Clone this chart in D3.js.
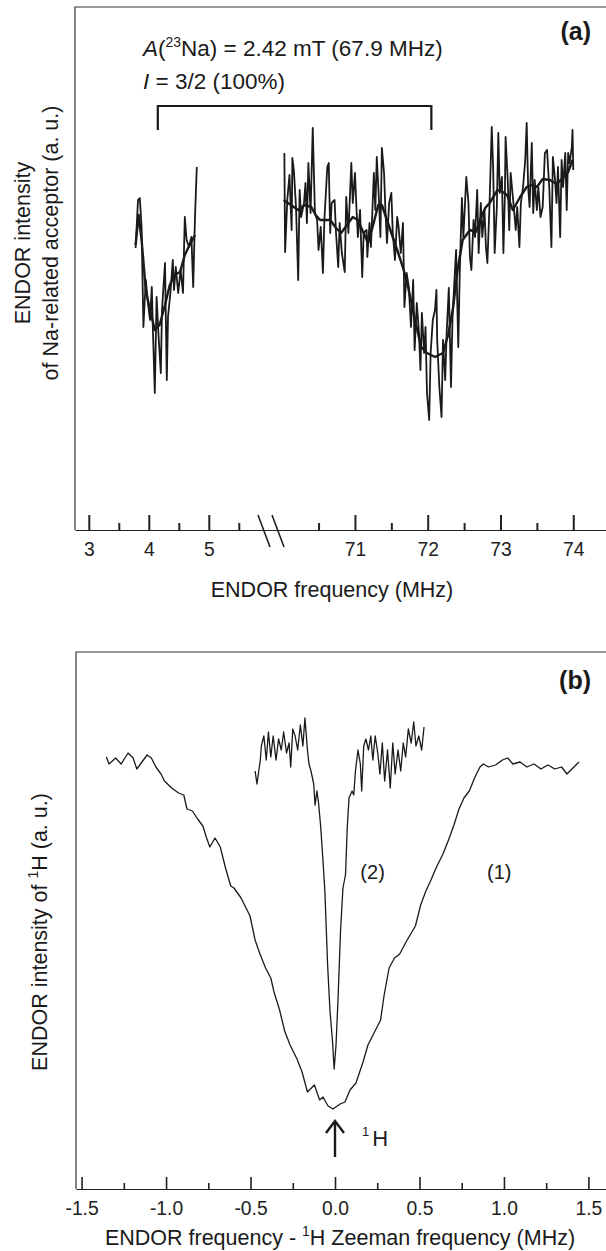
<!DOCTYPE html>
<html>
<head>
<meta charset="utf-8">
<script src="https://cdn.jsdelivr.net/npm/d3@7"></script>
<style>
  body { margin: 0; background: #fff; }
  svg { display: block; font-family: "Liberation Sans", Arial, Helvetica, sans-serif; }
  .axis path, .axis line { stroke: #222; }
  .axis text { font-size: 19.3px; fill: #222; font-family: "Liberation Sans", Arial, sans-serif; }
</style>
</head>
<body>
<svg width="606" height="1251"></svg>
<script>
// ---------- panel (a): Na-related acceptor ENDOR ----------
var aMajorTicks = [3, 4, 5, 71, 72, 73, 74];
var aMinorTicks = [3.5, 4.5, 5.5, 70.5, 71.5, 72.5, 73.5];

// low-frequency branch, raw trace (MHz, a.u.)
var aLowFreq = [3.78, 3.82, 3.85, 3.88, 3.91, 3.95, 3.98, 4.02, 4.05, 4.07, 4.10, 4.13, 4.16, 4.20, 4.22, 4.27,
  4.30, 4.32, 4.36, 4.40, 4.42, 4.45, 4.49, 4.53, 4.57, 4.60, 4.63, 4.67, 4.71, 4.74, 4.77, 4.80];
var aLowRaw = [28.2, 33.0, 33.2, 30.3, 20.3, 25.0, 23.0, 21.0, 24.3, 19.7, 13.7, 23.3, 19.7, 15.7, 22.0, 26.7,
  15.0, 21.3, 23.7, 27.0, 24.0, 26.3, 23.7, 26.0, 23.7, 31.3, 29.0, 28.3, 29.3, 24.3, 31.3, 36.3];
// low-frequency branch, smoothed
var aLowSmoothFreq = [3.78, 3.83, 3.88, 3.95, 4.02, 4.10, 4.18, 4.27, 4.35, 4.43, 4.52, 4.60, 4.68, 4.77];
var aLowSmooth = [28.5, 31.5, 29.0, 24.0, 22.0, 20.0, 20.5, 22.5, 24.5, 25.5, 25.8, 27.5, 28.5, 29.5];

// high-frequency branch, raw trace
var aHighFreq = [70.03, 70.04, 70.07, 70.10, 70.13, 70.14, 70.16, 70.19, 70.22, 70.24, 70.26, 70.30, 70.32, 70.34,
  70.36, 70.39, 70.42, 70.45, 70.48, 70.50, 70.53, 70.56, 70.58, 70.62, 70.64, 70.66, 70.68, 70.72, 70.74, 70.77,
  70.79, 70.82, 70.86, 70.88, 70.91, 70.95, 70.97, 71.00, 71.02, 71.04, 71.07, 71.10, 71.12, 71.16, 71.17, 71.20,
  71.22, 71.26, 71.28, 71.30, 71.33, 71.35, 71.37, 71.40, 71.42, 71.44, 71.47, 71.50, 71.52, 71.55, 71.58, 71.60,
  71.63, 71.66, 71.68, 71.71, 71.74, 71.77, 71.80, 71.82, 71.85, 71.88, 71.90, 71.92, 71.95, 71.97, 71.99, 72.02,
  72.04, 72.07, 72.10, 72.12, 72.13, 72.16, 72.19, 72.21, 72.24, 72.26, 72.29, 72.32, 72.34, 72.36, 72.39, 72.42,
  72.44, 72.47, 72.49, 72.51, 72.53, 72.56, 72.58, 72.60, 72.63, 72.65, 72.68, 72.70, 72.73, 72.75, 72.78, 72.80,
  72.82, 72.85, 72.88, 72.90, 72.92, 72.95, 72.97, 72.99, 73.02, 73.04, 73.06, 73.07, 73.10, 73.12, 73.14, 73.17,
  73.19, 73.21, 73.23, 73.26, 73.28, 73.31, 73.34, 73.36, 73.38, 73.40, 73.43, 73.45, 73.47, 73.50, 73.52, 73.55,
  73.58, 73.61, 73.64, 73.67, 73.70, 73.72, 73.75, 73.77, 73.79, 73.82, 73.84, 73.86, 73.89, 73.91, 73.93, 73.95,
  73.98, 73.99, 74.00];
var aHighRaw = [37.7, 27.8, 33.0, 35.5, 30.0, 37.2, 36.0, 32.3, 25.0, 34.0, 31.3, 32.7, 34.7, 30.7,
  36.7, 31.7, 40.2, 31.7, 31.0, 28.0, 30.3, 25.7, 31.0, 36.3, 36.7, 29.7, 32.7, 33.0, 29.7, 26.3,
  30.7, 27.7, 25.8, 33.3, 29.7, 36.7, 32.7, 35.7, 32.3, 29.3, 32.0, 25.3, 29.7, 30.0, 27.3, 30.7,
  28.3, 35.7, 32.0, 37.3, 33.0, 29.3, 38.2, 35.7, 31.7, 28.7, 32.7, 33.7, 29.7, 27.0, 31.3, 30.3,
  27.7, 30.7, 22.3, 25.7, 24.3, 20.3, 25.0, 18.0, 22.7, 19.7, 16.0, 21.7, 17.7, 20.3, 13.7, 11.0,
  17.7, 21.0, 22.0, 24.0, 19.0, 14.3, 11.3, 19.0, 15.0, 19.7, 24.2, 14.3, 21.0, 24.0, 28.0, 18.3,
  25.7, 33.2, 29.3, 32.3, 35.3, 32.7, 27.3, 26.0, 31.0, 29.3, 34.0, 27.7, 32.7, 29.3, 32.0, 28.3,
  26.7, 32.7, 40.3, 36.0, 27.7, 32.3, 39.7, 33.7, 35.3, 27.7, 33.3, 39.3, 35.0, 30.0, 35.7, 33.3,
  31.7, 30.0, 32.3, 28.3, 32.7, 34.3, 37.0, 40.7, 34.3, 32.3, 38.7, 31.7, 35.0, 32.0, 34.3, 31.3,
  32.3, 37.7, 38.0, 34.3, 28.3, 37.3, 35.0, 32.7, 36.3, 29.3, 37.0, 34.3, 37.7, 32.0, 37.7, 36.7,
  38.3, 40.0, 36.0];
// high-frequency branch, smoothed
var aHighSmoothFreq = [70.02, 70.12, 70.22, 70.31, 70.40, 70.46, 70.52, 70.66, 70.74, 70.81, 70.89, 70.97, 71.04,
  71.10, 71.18, 71.25, 71.32, 71.37, 71.43, 71.51, 71.59, 71.67, 71.73, 71.81, 71.91, 71.99, 72.10, 72.21, 72.28,
  72.35, 72.41, 72.48, 72.58, 72.66, 72.72, 72.79, 72.85, 72.96, 73.03, 73.09, 73.17, 73.27, 73.36, 73.43, 73.50,
  73.58, 73.68, 73.77, 73.86, 73.93, 73.99];
var aHighSmooth = [33.0, 32.5, 32.0, 32.5, 32.3, 31.5, 31.0, 31.0, 30.2, 29.7, 30.5, 31.3, 31.0,
  30.0, 28.7, 30.5, 32.5, 32.5, 31.2, 29.5, 27.8, 26.0, 24.3, 21.5, 18.3, 17.7, 17.3, 17.7, 19.5,
  22.3, 26.0, 29.0, 30.0, 29.8, 31.0, 32.2, 32.7, 34.0, 33.8, 33.5, 32.0, 33.3, 34.3, 34.5, 34.3,
  35.1, 35.0, 34.6, 35.2, 35.8, 37.0];

// 23Na hyperfine splitting bracket (MHz)
var aSplitting = [4.15, 72.05];

// ---------- panel (b): 1H ENDOR ----------
var bMajorTicks = [-1.5, -1.0, -0.5, 0.0, 0.5, 1.0, 1.5];
var bMinorTicks = [-1.25, -0.75, -0.25, 0.25, 0.75, 1.25];

// curve (1)
var b1Freq = [-1.353, -1.338, -1.298, -1.266, -1.225, -1.195, -1.173, -1.143, -1.112, -1.087, -1.060, -1.030,
  -1.009, -0.967, -0.926, -0.895, -0.876, -0.844, -0.813, -0.782, -0.762, -0.741, -0.710, -0.679, -0.648,
  -0.617, -0.598, -0.556, -0.503, -0.473, -0.444, -0.411, -0.380, -0.361, -0.328, -0.298, -0.266, -0.225,
  -0.195, -0.163, -0.122, -0.091, -0.071, -0.041, -0.012, 0.030, 0.059, 0.089, 0.124, 0.166, 0.195, 0.237,
  0.270, 0.290, 0.320, 0.352, 0.383, 0.414, 0.434, 0.476, 0.507, 0.538, 0.568, 0.598, 0.639, 0.672, 0.702,
  0.734, 0.763, 0.795, 0.826, 0.858, 0.878, 0.909, 0.950, 0.991, 1.022, 1.053, 1.095, 1.136, 1.178, 1.219,
  1.260, 1.301, 1.341, 1.373, 1.402, 1.444];
var b1Int = [43.2, 42.5, 43.1, 42.5, 43.6, 43.1, 42.0, 42.7, 43.4, 43.1, 42.2, 41.5,
  40.8, 40.1, 39.6, 39.4, 38.0, 37.8, 37.0, 36.3, 35.2, 34.2, 35.1, 34.2, 32.1,
  30.3, 30.1, 29.1, 27.3, 24.9, 23.5, 22.1, 21.1, 19.7, 17.9, 15.8, 14.4, 13.0,
  11.7, 9.7, 10.4, 8.9, 9.2, 8.3, 8.0, 8.5, 8.7, 9.9, 10.6, 12.7, 14.4, 15.8,
  16.9, 19.3, 22.1, 23.1, 23.5, 24.5, 25.1, 26.3, 28.4, 29.8, 30.9, 32.1, 33.5, 34.9, 36.3,
  38.0, 39.1, 39.8, 41.1, 42.2, 42.5, 42.2, 42.4, 42.9, 43.1, 42.5, 42.7, 42.2, 42.5, 42.0,
  42.4, 42.0, 42.2, 41.5, 42.0, 42.7];

// curve (2)
var b2Freq = [-0.473, -0.462, -0.442, -0.436, -0.421, -0.407, -0.394, -0.380, -0.366, -0.349, -0.334, -0.318,
  -0.304, -0.287, -0.272, -0.262, -0.250, -0.236, -0.221, -0.205, -0.190, -0.178, -0.163, -0.154, -0.142,
  -0.126, -0.118, -0.107, -0.098, -0.085, -0.071, -0.060, -0.044, -0.030, -0.015, -0.005, 0.006, 0.018,
  0.033, 0.047, 0.062, 0.073, 0.083, 0.101, 0.111, 0.121, 0.136, 0.150, 0.158, 0.170, 0.183, 0.198, 0.212,
  0.224, 0.238, 0.253, 0.266, 0.280, 0.294, 0.311, 0.327, 0.342, 0.356, 0.373, 0.389, 0.404, 0.418, 0.434,
  0.451, 0.466, 0.479, 0.496, 0.513, 0.527];
var b2Int = [41.8, 40.5, 42.9, 44.3, 45.3, 42.9, 45.7, 43.2, 45.3, 42.9, 45.0, 43.9,
  45.7, 43.6, 44.6, 42.2, 46.0, 45.3, 43.9, 46.4, 44.3, 47.1, 43.9, 42.5, 41.8,
  40.5, 38.4, 39.8, 38.7, 36.3, 32.8, 29.8, 22.5, 17.9, 14.8, 12.0, 14.4, 19.0,
  25.9, 30.1, 31.4, 36.3, 39.1, 39.8, 39.4, 41.8, 43.9, 42.5, 39.8, 44.3, 45.0, 43.9, 45.3,
  42.9, 45.3, 43.6, 41.5, 44.6, 40.8, 43.9, 40.1, 44.6, 41.5, 43.9, 41.8, 44.6, 43.2, 46.0,
  44.6, 46.7, 44.3, 45.3, 43.9, 46.2];

var svg = d3.select("svg");
var ink = "#1a1a1a";

function zip(xs, ys) { return xs.map((x, i) => [x, ys[i]]); }

// ===== panel (a) =====
var ax = d3.scaleLinear().domain([2.77, 5.92, 69.97, 74.45]).range([75, 264, 280, 606]);
var ay = d3.scaleLinear().domain([0, 52.3]).range([530, 7]);

var pa = svg.append("g");
pa.append("path")
    .attr("d", "M607," + ay(52.3) + "H" + ax(2.77) + "V" + ay(0))
    .attr("fill", "none").attr("stroke", "#333").attr("stroke-width", 1.2);

var aAxis = pa.append("g").attr("class", "axis").attr("transform", "translate(0," + ay(0) + ")")
    .call(d3.axisBottom(ax).tickValues(aMajorTicks).tickFormat(d3.format("d"))
        .tickSizeInner(-15).tickSizeOuter(0).tickPadding(12));
aAxis.selectAll(".tick line").attr("stroke-width", 2);
aAxis.select(".domain").attr("stroke-width", 1.2);
pa.append("g").attr("class", "axis").attr("transform", "translate(0," + ay(0) + ")")
    .call(d3.axisBottom(ax).tickValues(aMinorTicks).tickFormat("").tickSizeInner(-7).tickSizeOuter(0))
    .call(g => g.select(".domain").remove())
    .selectAll(".tick line").attr("stroke-width", 2);

// axis break marks
var xb = (ax(5.92) + ax(69.97)) / 2;
[-8, 6].forEach(function(o) {
  pa.append("line")
      .attr("x1", xb + o - 6).attr("y1", ay(0) - 15)
      .attr("x2", xb + o + 6).attr("y2", ay(0) + 17)
      .attr("stroke", ink).attr("stroke-width", 1.6);
});

var aLine = d3.line().x(d => ax(d[0])).y(d => ay(d[1]));
[[aLowFreq, aLowRaw, 1.8], [aHighFreq, aHighRaw, 1.8], [aLowSmoothFreq, aLowSmooth, 2.4], [aHighSmoothFreq, aHighSmooth, 2.4]]
  .forEach(function(s) {
    pa.append("path").datum(zip(s[0], s[1]))
        .attr("d", aLine)
        .attr("fill", "none").attr("stroke", ink)
        .attr("stroke-width", s[2]).attr("stroke-linejoin", "round");
  });

// splitting bracket
pa.append("path")
    .attr("d", "M" + ax(aSplitting[0]) + ",130V106H" + ax(aSplitting[1]) + "V130")
    .attr("fill", "none").attr("stroke", ink).attr("stroke-width", 2.2);

var t1 = pa.append("text").attr("x", 143).attr("y", 56).attr("font-size", 22.5).attr("fill", ink);
t1.append("tspan").attr("font-style", "italic").text("A");
t1.append("tspan").text("(");
t1.append("tspan").attr("font-size", 14).attr("dy", -9).text("23");
t1.append("tspan").attr("dy", 9).text("Na) = 2.42 mT (67.9 MHz)");
var t2 = pa.append("text").attr("x", 143).attr("y", 89).attr("font-size", 22.5).attr("fill", ink);
t2.append("tspan").attr("font-style", "italic").text("I");
t2.append("tspan").text(" = 3/2 (100%)");

pa.append("text").attr("x", 591).attr("y", 40).attr("text-anchor", "end")
    .attr("font-size", 25).attr("font-weight", "bold").attr("fill", ink).text("(a)");

pa.append("text").attr("x", 332).attr("y", 597).attr("text-anchor", "middle")
    .attr("font-size", 21.5).attr("fill", ink).text("ENDOR frequency (MHz)");

var ayl = pa.append("text").attr("transform", "translate(0,243) rotate(-90)")
    .attr("text-anchor", "middle").attr("font-size", 21.5).attr("fill", ink);
ayl.append("tspan").attr("x", 0).attr("y", 30).text("ENDOR intensity");
ayl.append("tspan").attr("x", 0).attr("y", 58).text("of Na-related acceptor (a. u.)");

// ===== panel (b) =====
var bx = d3.scaleLinear().domain([-1.533, 1.604]).range([76, 606]);
var by = d3.scaleLinear().domain([0, 53.7]).range([1189, 652]);

var pb = svg.append("g");
pb.append("path")
    .attr("d", "M607," + by(53.7) + "H" + bx(-1.533) + "V" + by(0))
    .attr("fill", "none").attr("stroke", "#333").attr("stroke-width", 1.2);

var bAxis = pb.append("g").attr("class", "axis").attr("transform", "translate(0," + by(0) + ")")
    .call(d3.axisBottom(bx).tickValues(bMajorTicks).tickFormat(d3.format(".1f"))
        .tickSizeInner(-12).tickSizeOuter(0).tickPadding(12));
bAxis.selectAll(".tick line").attr("stroke-width", 1.6);
bAxis.select(".domain").attr("stroke-width", 1.2);
bAxis.selectAll(".tick text").text(d => d3.format(".1f")(d).replace("\u2212", "-"));
pb.append("g").attr("class", "axis").attr("transform", "translate(0," + by(0) + ")")
    .call(d3.axisBottom(bx).tickValues(bMinorTicks).tickFormat("").tickSizeInner(-6).tickSizeOuter(0))
    .call(g => g.select(".domain").remove())
    .selectAll(".tick line").attr("stroke-width", 1.6);

var bLine = d3.line().x(d => bx(d[0])).y(d => by(d[1]));
[[b1Freq, b1Int], [b2Freq, b2Int]].forEach(function(s) {
  pb.append("path").datum(zip(s[0], s[1]))
      .attr("d", bLine)
      .attr("fill", "none").attr("stroke", ink)
      .attr("stroke-width", 1.3).attr("stroke-linejoin", "round");
});

pb.append("text").attr("x", bx(0.15)).attr("y", by(31.0)).attr("font-size", 20).attr("fill", ink).text("(2)");
pb.append("text").attr("x", bx(0.9)).attr("y", by(31.0)).attr("font-size", 20).attr("fill", ink).text("(1)");

// 1H Zeeman marker
var ax0 = bx(0);
pb.append("path")
    .attr("d", "M" + ax0 + "," + by(3.2) + "V" + by(6.8) + "M" + (ax0 - 9) + "," + by(5.6) + "L" + ax0 + "," + by(6.8) + "L" + (ax0 + 9) + "," + by(5.6))
    .attr("fill", "none").attr("stroke", ink).attr("stroke-width", 2.4);
var hl = pb.append("text").attr("x", ax0 + 27).attr("y", by(4.3)).attr("font-size", 22).attr("fill", ink);
hl.append("tspan").attr("font-size", 13).attr("dy", -10).text("1");
hl.append("tspan").attr("dy", 10).attr("dx", 3).text("H");

pb.append("text").attr("x", 340).attr("y", 1245).attr("text-anchor", "middle")
    .attr("font-size", 21.5).attr("fill", ink)
    .call(function(t) {
      t.append("tspan").text("ENDOR frequency - ");
      t.append("tspan").attr("font-size", 14).attr("dy", -9).text("1");
      t.append("tspan").attr("dy", 9).text("H Zeeman frequency  (MHz)");
    });

pb.append("text").attr("x", 591).attr("y", 689).attr("text-anchor", "end")
    .attr("font-size", 25).attr("font-weight", "bold").attr("fill", ink).text("(b)");

var byl = pb.append("text").attr("transform", "translate(47,932) rotate(-90)")
    .attr("text-anchor", "middle").attr("font-size", 21.5).attr("fill", ink);
byl.append("tspan").text("ENDOR intensity of ");
byl.append("tspan").attr("font-size", 14).attr("dy", -9).text("1");
byl.append("tspan").attr("dy", 9).text("H (a. u.)");
</script>
</body>
</html>
